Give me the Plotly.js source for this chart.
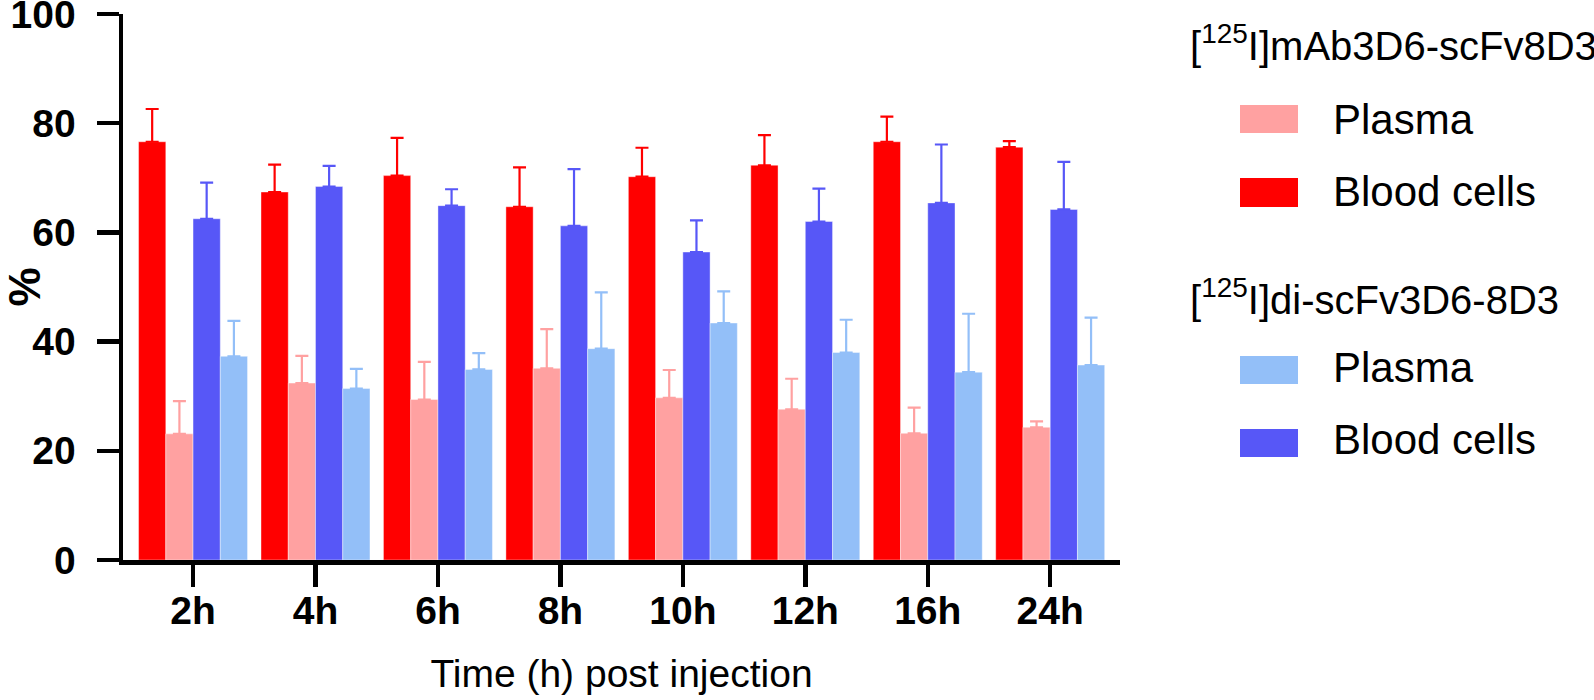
<!DOCTYPE html>
<html>
<head>
<meta charset="utf-8">
<script src="https://cdn.plot.ly/plotly-3.0.1.min.js"></script>
<style>html,body{margin:0;padding:0;background:#fff;}#chart{width:1594px;height:700px;}</style>
</head>
<body>
<div id="chart"></div>
<script>
// ---- data ----
const categories = ['2h', '4h', '6h', '8h', '10h', '12h', '16h', '24h'];
const mAbBlood      = [76.6, 67.4, 70.4, 64.7, 70.2, 72.3, 76.6, 75.6];
const mAbBloodErr   = [6.0, 5.0, 6.9, 7.2, 5.3, 5.5, 4.6, 1.1];
const mAbPlasma     = [23.1, 32.4, 29.4, 35.1, 29.7, 27.6, 23.2, 24.3];
const mAbPlasmaErr  = [6.0, 5.0, 6.9, 7.2, 5.1, 5.6, 4.7, 1.1];
const diBlood       = [62.5, 68.4, 64.9, 61.2, 56.4, 62.0, 65.4, 64.2];
const diBloodErr    = [6.6, 3.8, 3.0, 10.4, 5.8, 6.0, 10.7, 8.7];
const diPlasma      = [37.3, 31.4, 34.9, 38.7, 43.4, 38.0, 34.4, 35.7];
const diPlasmaErr   = [6.5, 3.6, 3.0, 10.3, 5.8, 6.0, 10.7, 8.7];
const groupTitles = ['[<sup>125</sup>I]mAb3D6-scFv8D3', '[<sup>125</sup>I]di-scFv3D6-8D3'];
const seriesNames = ['Plasma', 'Blood cells'];
const yTicks = [0, 20, 40, 60, 80, 100];

// ---- styles ----
const C_RED = '#FF0000', C_PINK = '#FFA1A1', C_BLUE = '#5757F7', C_LBLUE = '#93BFF8';
const FONT = 'Liberation Sans, Arial, Helvetica, sans-serif';

function barTrace(name, y, err, color) {
  return {
    type: 'bar', name: name, x: categories, y: y,
    marker: {color: color, line: {color: 'rgba(255,255,255,0.4)', width: 1}},
    error_y: {type: 'data', symmetric: false, array: err, arrayminus: err.map(() => 0),
              color: color, thickness: 2.2, width: 6.5},
    showlegend: false, hoverinfo: 'skip'
  };
}

const traces = [
  barTrace('Blood cells', mAbBlood, mAbBloodErr, C_RED),
  barTrace('Plasma', mAbPlasma, mAbPlasmaErr, C_PINK),
  barTrace('Blood cells', diBlood, diBloodErr, C_BLUE),
  barTrace('Plasma', diPlasma, diPlasmaErr, C_LBLUE)
];

// plot area in pixels
const L = 123, R = 1120, T = 14, B = 560;
const px = v => (v - L) / (R - L);
const py = v => (B - v) / (B - T);

const legendRows = [
  {kind: 'title', text: groupTitles[0], y: 43},
  {kind: 'item', text: seriesNames[0], color: C_PINK, y0: 105, y1: 133, ty: 120},
  {kind: 'item', text: seriesNames[1], color: C_RED, y0: 178, y1: 207, ty: 192},
  {kind: 'title', text: groupTitles[1], y: 297},
  {kind: 'item', text: seriesNames[0], color: C_LBLUE, y0: 356, y1: 384, ty: 368},
  {kind: 'item', text: seriesNames[1], color: C_BLUE, y0: 429, y1: 457, ty: 439}
];
const annotations = [], shapes = [];
legendRows.forEach(r => {
  if (r.kind === 'title') {
    annotations.push({xref: 'paper', yref: 'paper', x: px(1188), y: py(r.y), xanchor: 'left', yanchor: 'middle',
      text: r.text, showarrow: false, font: {family: FONT, size: 40, color: '#000'}});
  } else {
    shapes.push({type: 'rect', xref: 'paper', yref: 'paper', x0: px(1240), x1: px(1298), y0: py(r.y1), y1: py(r.y0),
      fillcolor: r.color, line: {width: 0}});
    annotations.push({xref: 'paper', yref: 'paper', x: px(1331), y: py(r.ty), xanchor: 'left', yanchor: 'middle',
      text: r.text, showarrow: false, font: {family: FONT, size: 42, color: '#000'}});
  }
});

const layout = {
  width: 1594, height: 700,
  margin: {l: L, r: 1594 - R, t: T, b: 700 - B, pad: 0},
  paper_bgcolor: '#fff', plot_bgcolor: '#fff',
  barmode: 'group', bargap: 0.11, bargroupgap: 0,
  font: {family: FONT, color: '#000'},
  xaxis: {
    type: 'category', range: [-0.572, 7.57], showgrid: false, zeroline: false,
    showline: true, linecolor: '#000', linewidth: 4.5,
    ticks: 'outside', ticklen: 22, tickwidth: 4.5, tickcolor: '#000',
    tickfont: {family: FONT, size: 39, weight: 'bold', color: '#000'},
    ticklabelstandoff: -9,
    title: {text: 'Time (h) post injection', font: {family: FONT, size: 39, color: '#000'}, standoff: 30}
  },
  yaxis: {
    range: [0, 100], tickvals: yTicks, ticktext: yTicks.map(String), showgrid: false, zeroline: false,
    showline: true, linecolor: '#000', linewidth: 4.5,
    ticks: 'outside', ticklen: 22, tickwidth: 4.5, tickcolor: '#000',
    tickfont: {family: FONT, size: 39, weight: 'bold', color: '#000'},
    ticklabelstandoff: 13, ticklabeloverflow: 'allow',
    title: {text: '%', font: {family: FONT, size: 44, weight: 'bold', color: '#000'}, standoff: 14}
  },
  annotations: annotations,
  shapes: shapes
};

Plotly.newPlot('chart', traces, layout, {staticPlot: true, displayModeBar: false});
</script>
</body>
</html>
